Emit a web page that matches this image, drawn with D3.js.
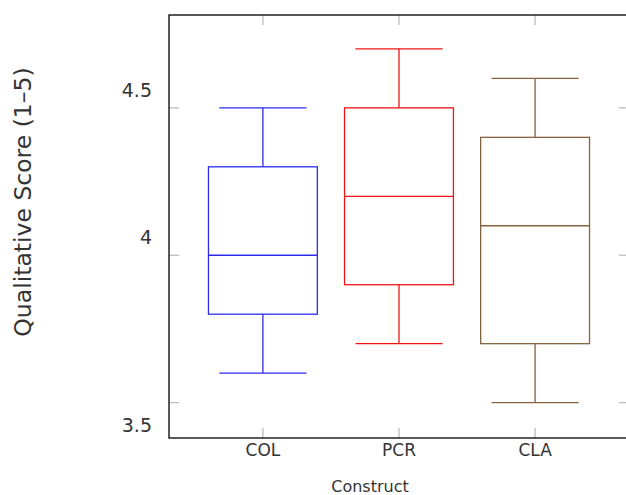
<!DOCTYPE html>
<meta charset="utf-8">
<style>
body { margin: 0; background: #fff; }
svg { display: block; font-family: "DejaVu Sans", sans-serif; }
.frame { fill: none; stroke: #000; stroke-width: 1.3px; }
.tick-mark { stroke: #bdbdbd; stroke-width: 1.3px; }
.box { fill: none; stroke-width: 1.3px; }
</style>
<body>
<div id="chart"></div>
<script src="https://cdn.jsdelivr.net/npm/d3@7"></script>
<script>

// data
var categories = ["COL", "PCR", "CLA"];
var lowWhisker = [3.6, 3.7, 3.5];
var lowerQuart = [3.8, 3.9, 3.7];
var medians    = [4.0, 4.2, 4.1];
var upperQuart = [4.3, 4.5, 4.4];
var highWhisker = [4.5, 4.7, 4.6];
var colors = ["#2b2bf0", "#f01414", "#86633f"];
var yTicks = [3.5, 4, 4.5];

var width = 626,
    height = 495;

var plotLeft = 169, plotRight = 629, plotTop = 15, plotBottom = 438;

var svg = d3.select("#chart")
  .append("svg")
    .attr("width", width)
    .attr("height", height);

var x = d3.scaleLinear()
    .domain([0.31, 3.69])
    .range([plotLeft, plotRight]);

var y = d3.scaleLinear()
    .domain([3.38, 4.815])
    .range([plotBottom, plotTop]);

var boxHalf = 0.4, capHalf = 0.32;

// inner ticks, all four sides
var ticks = svg.append("g");
yTicks.forEach(function(t) {
  ticks.append("line").attr("class", "tick-mark")
    .attr("x1", plotLeft).attr("x2", plotLeft + 10).attr("y1", y(t)).attr("y2", y(t));
  ticks.append("line").attr("class", "tick-mark")
    .attr("x1", plotRight - 10).attr("x2", plotRight).attr("y1", y(t)).attr("y2", y(t));
});
categories.forEach(function(c, i) {
  ticks.append("line").attr("class", "tick-mark")
    .attr("x1", x(i + 1)).attr("x2", x(i + 1)).attr("y1", plotTop).attr("y2", plotTop + 10);
  ticks.append("line").attr("class", "tick-mark")
    .attr("x1", x(i + 1)).attr("x2", x(i + 1)).attr("y1", plotBottom - 10).attr("y2", plotBottom);
});

// boxes
var data = categories.map(function(c, i) {
  return { name: c, pos: i + 1, lo: lowWhisker[i], q1: lowerQuart[i], med: medians[i],
           q3: upperQuart[i], hi: highWhisker[i], color: colors[i] };
});

var g = svg.selectAll("g.boxplot")
  .data(data)
  .enter().append("g")
    .attr("class", "boxplot")
    .style("stroke", function(d) { return d.color; });

g.append("rect").attr("class", "box")
  .attr("x", function(d) { return x(d.pos - boxHalf); })
  .attr("width", function(d) { return x(d.pos + boxHalf) - x(d.pos - boxHalf); })
  .attr("y", function(d) { return y(d.q3); })
  .attr("height", function(d) { return y(d.q1) - y(d.q3); });

g.append("line").attr("class", "box")
  .attr("x1", function(d) { return x(d.pos - boxHalf); })
  .attr("x2", function(d) { return x(d.pos + boxHalf); })
  .attr("y1", function(d) { return y(d.med); })
  .attr("y2", function(d) { return y(d.med); });

// whiskers
g.append("line").attr("class", "box")
  .attr("x1", function(d) { return x(d.pos); }).attr("x2", function(d) { return x(d.pos); })
  .attr("y1", function(d) { return y(d.q3); }).attr("y2", function(d) { return y(d.hi); });
g.append("line").attr("class", "box")
  .attr("x1", function(d) { return x(d.pos); }).attr("x2", function(d) { return x(d.pos); })
  .attr("y1", function(d) { return y(d.q1); }).attr("y2", function(d) { return y(d.lo); });

["hi", "lo"].forEach(function(k) {
  g.append("line").attr("class", "box")
    .attr("x1", function(d) { return x(d.pos - capHalf); })
    .attr("x2", function(d) { return x(d.pos + capHalf); })
    .attr("y1", function(d) { return y(d[k]); })
    .attr("y2", function(d) { return y(d[k]); });
});

// frame
svg.append("rect").attr("class", "frame")
  .attr("x", plotLeft).attr("y", plotTop)
  .attr("width", plotRight - plotLeft).attr("height", plotBottom - plotTop);

// y tick labels (offset from their ticks like the original)
svg.append("g").selectAll("text")
  .data(yTicks)
  .enter().append("text")
    .attr("x", 152)
    .attr("y", function(d) { return y(d); })
    .attr("dy", function(d, i) { return i === 0 ? "29" : "-11"; })
    .attr("text-anchor", "end")
    .style("font-size", "19px")
    .style("fill", "#333")
    .text(function(d) { return d3.format("")(d); });

// x tick labels
svg.append("g").selectAll("text")
  .data(categories)
  .enter().append("text")
    .attr("x", function(d, i) { return x(i + 1); })
    .attr("y", plotBottom + 18)
    .attr("text-anchor", "middle")
    .style("font-size", "17px")
    .style("fill", "#333")
    .text(function(d) { return d; });

svg.append("text")
  .attr("x", 370).attr("y", 492)
  .attr("text-anchor", "middle")
  .style("font-size", "16px")
  .style("fill", "#333")
  .text("Construct");

svg.append("text")
  .attr("transform", "translate(31,202) rotate(-90)")
  .attr("text-anchor", "middle")
  .style("font-size", "23.5px")
  .style("fill", "#333")
  .text("Qualitative Score (1–5)");

</script>
</body>
